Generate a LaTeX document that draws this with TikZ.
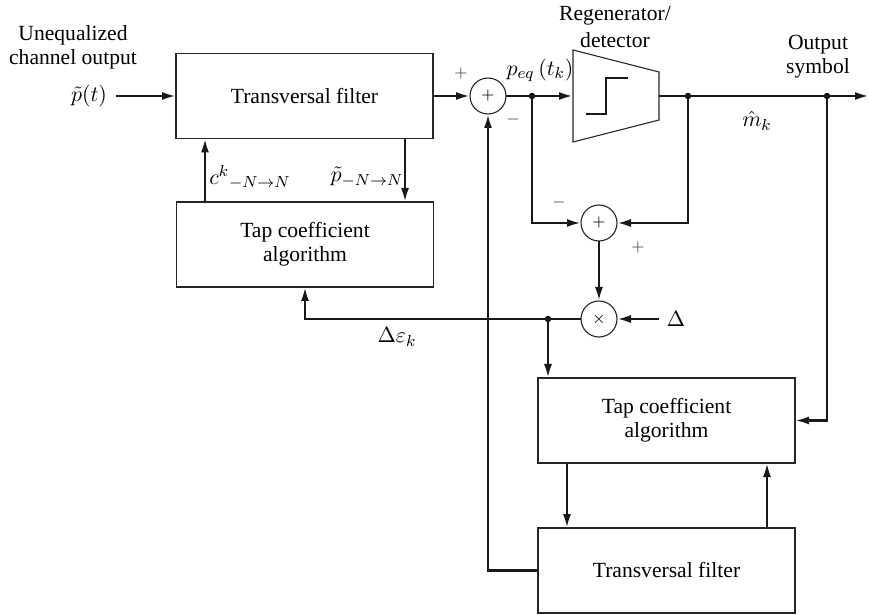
\documentclass[tikz,border=0pt]{standalone}
\usepackage{fontspec}
\setmainfont{Liberation Serif}
\usetikzlibrary{arrows.meta}
\begin{document}
\begin{tikzpicture}[x=0.5pt,y=-0.5pt,
  font=\fontsize{10.8}{12}\selectfont,
  blk/.style={draw=black!85, line width=0.55pt, minimum width=128.5pt, minimum height=42.5pt, outer sep=0pt, align=center, inner sep=0pt},
  sumc/.style={circle, draw=black!85, line width=0.55pt, minimum size=18pt, inner sep=0pt, outer sep=0pt, font=\fontsize{8.5}{9}\selectfont},
  con/.style={line width=1.2pt, black!90},
  arr/.style={con, -{Latex[length=7pt,width=4pt]}},
  dotc/.style={circle, fill=black, inner sep=0pt, minimum size=3.2pt},
  sgn/.style={font=\fontsize{8.5}{9}\selectfont, text=black!75, inner sep=0pt},
  lbl/.style={inner sep=0pt, align=center}]
\useasboundingbox (0,0) rectangle (869,615);
% blocks
\node[blk] (tf1) at (304.5,96) {Transversal filter};
\node[blk] (tap1) at (305,244.5) {Tap coefficient\\algorithm};
\node[blk] (tap2) at (666.5,420.5) {Tap coefficient\\algorithm};
\node[blk] (tf2) at (666.5,570.5) {Transversal filter};
\node[sumc] (s1) at (488,96) {$+$};
\node[sumc] (s2) at (599,223) {$+$};
\node[sumc] (m1) at (599,319) {$\times$};
% regenerator
\coordinate (rl) at (573,96);
\coordinate (rr) at (659,96);
\draw[black!85, line width=0.55pt] (573,50) -- (659,72) -- (659,120) -- (573,142) -- cycle;
\draw[line width=1.2pt, black!90] (586,114) -- (606,114) -- (606,78) -- (628,78);
% dots and coordinates
\node[dotc] (d1) at (532,96) {};
\node[dotc] (d2) at (688,96) {};
\node[dotc] (d3) at (827,96) {};
\node[dotc] (d4) at (548,319) {};
\coordinate (in) at (116,96);
\coordinate (out) at (869,96);
% labels
\node[lbl] at (73,35) {Unequalized};
\node[lbl] at (73,59) {channel output};
\node[lbl] (pin) at (89,96) {$\tilde{p}(t)$};
\node[lbl] at (615,16) {Regenerator/};
\node[lbl] at (615,40) {detector};
\node[lbl] at (818,45) {Output};
\node[lbl] at (818,68) {symbol};
\node[lbl] at (540,70) {$p_{eq}\,(t_k)$};
\node[lbl] at (757,121) {$\hat{m}_k$};
\node[lbl] at (250,177) {$c^{k}{}_{-N\rightarrow N}$};
\node[lbl] at (367,177) {$\tilde{p}_{-N\rightarrow N}$};
\node[lbl] at (397,337) {$\Delta\varepsilon_k$};
\node[lbl] (delta) at (676,319) {$\Delta$};
\node[sgn] at (461,74) {$+$};
\node[sgn] at (513,120) {$-$};
\node[sgn] at (559,202) {$-$};
\node[sgn] at (638,248) {$+$};
% connectors
\draw[arr] (in) -- (tf1.west);
\draw[arr] (tf1.east) -- (s1.west);
\draw[con] (s1.east) -- (d1.center);
\draw[arr] (d1.center) -- (rl);
\draw[arr] (rr) -- (out);
\draw[arr] (d1.center) |- (s2.west);
\draw[arr] (d2.center) |- (s2.east);
\draw[arr] (s2.south) -- (m1.north);
\draw[arr] ([xshift=-3.5pt]delta.west) -- (m1.east);
\draw[arr] (m1.west) -| (tap1.south);
\draw[arr] (d4.center) -- (d4.center |- tap2.north);
\draw[arr] (d3.center) |- (tap2.east);
\draw[arr] (tap1.north -| 205,0) -- (tf1.south -| 205,0);
\draw[arr] (tf1.south -| 405,0) -- (tap1.north -| 405,0);
\draw[arr] (tap2.south -| 567,0) -- (tf2.north -| 567,0);
\draw[arr] (tf2.north -| 767,0) -- (tap2.south -| 767,0);
\draw[arr] (tf2.west) -| (s1.south);
\end{tikzpicture}
\end{document}
